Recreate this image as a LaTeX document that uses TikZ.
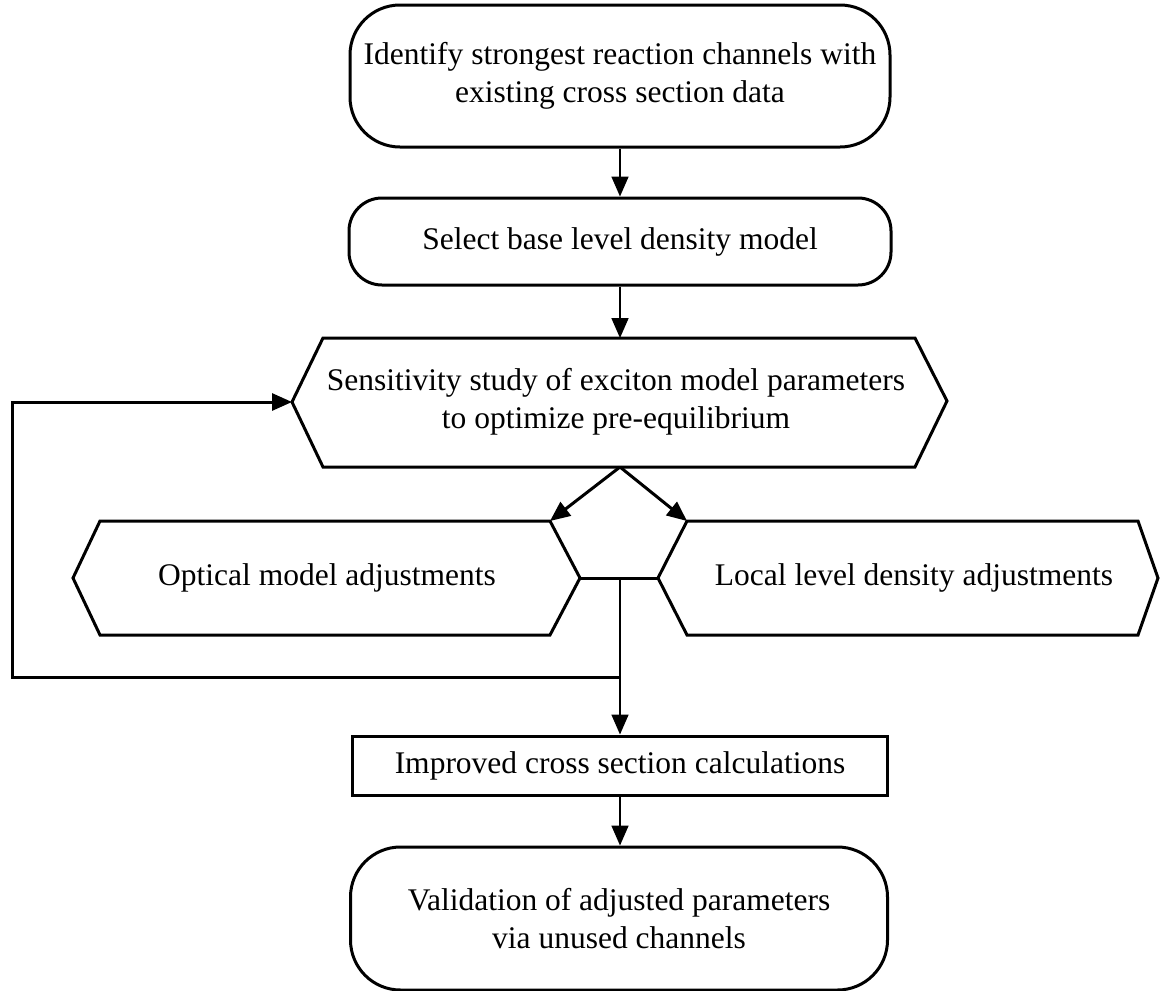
\documentclass[tikz,border=0pt]{standalone}
\usepackage{fontspec}
\setmainfont{Liberation Serif}
\usetikzlibrary{arrows.meta}
\begin{document}
\begin{tikzpicture}[x=1bp,y=-1bp,
  txt/.style={font=\fontsize{31.5bp}{38bp}\selectfont},
  box/.style={draw,line width=3bp,inner sep=0pt,align=center,txt},
  lbl/.style={inner sep=0pt,align=center,txt},
  shp/.style={draw,line width=3bp,line join=miter},
  thinarrow/.style={line width=1.7bp,-{Triangle[length=20bp,width=17bp]}},
  thickarrow/.style={line width=3bp,-{Triangle[length=20bp,width=17bp]}},
  thickline/.style={line width=3bp}]
\useasboundingbox (0,0) rectangle (1161,991);

% rounded boxes
\node[box,rounded corners=50bp,minimum width=540bp,minimum height=142bp] (b1) at (620,76)
  {Identify strongest reaction channels with\\existing cross section data};
\node[box,rounded corners=33bp,minimum width=542bp,minimum height=87bp] (b2) at (620,241.5)
  {Select base level density model};

% hexagon 3
\coordinate (h3w) at (292,402);
\coordinate (h3nw) at (323,338);
\coordinate (h3ne) at (915,338);
\coordinate (h3e) at (947,401);
\coordinate (h3se) at (915,467);
\coordinate (h3sw) at (323,467);
\coordinate (h3n) at (620,338);
\coordinate (h3s) at (620,467);
\draw[shp] (h3w)--(h3nw)--(h3ne)--(h3e)--(h3se)--(h3sw)--cycle;
\node[lbl] (h3) at (616,402) {Sensitivity study of exciton model parameters\\to optimize pre-equilibrium};

% left hexagon
\coordinate (l4w) at (73,578);
\coordinate (l4nw) at (100,521);
\coordinate (l4ne) at (550,521);
\coordinate (l4e) at (580,578);
\coordinate (l4se) at (550,635);
\coordinate (l4sw) at (100,635);
\draw[shp] (l4w)--(l4nw)--(l4ne)--(l4e)--(l4se)--(l4sw)--cycle;
\node[lbl] (l4) at (327,578) {Optical model adjustments};

% right hexagon
\coordinate (r5w) at (658,578);
\coordinate (r5nw) at (687,521);
\coordinate (r5ne) at (1138,521);
\coordinate (r5e) at (1158,578);
\coordinate (r5se) at (1138,635);
\coordinate (r5sw) at (687,635);
\draw[shp] (r5w)--(r5nw)--(r5ne)--(r5e)--(r5se)--(r5sw)--cycle;
\node[lbl] (r5) at (914,578) {Local level density adjustments};

% lower boxes
\node[box,minimum width=535bp,minimum height=59bp] (b6) at (620,765.5)
  {Improved cross section calculations};
\node[box,rounded corners=50bp,minimum width=537bp,minimum height=143bp] (b7) at (619,918.5)
  {Validation of adjusted parameters\\via unused channels};

% connectors
\draw[thinarrow] (b1.south) -- (b2.north);
\draw[thinarrow] (b2.south) -- (h3n);
\draw[thickarrow] (h3s) -- (l4ne);
\draw[thickarrow] (h3s) -- (r5nw);
\draw[thickline] (l4e) -- (r5w);
\coordinate (m) at (620,578);
\coordinate (fb) at (620,677);
\coordinate (fbl) at (12,677);
\coordinate (fbt) at (12,402);
\draw[thinarrow] (m) -- (b6.north -| m);
\draw[thickarrow,line join=miter] (fb) -- (fbl) -- (fbt) -- (h3w);
\draw[thinarrow] (b6.south) -- (b7.north -| b6.south);
\end{tikzpicture}
\end{document}
